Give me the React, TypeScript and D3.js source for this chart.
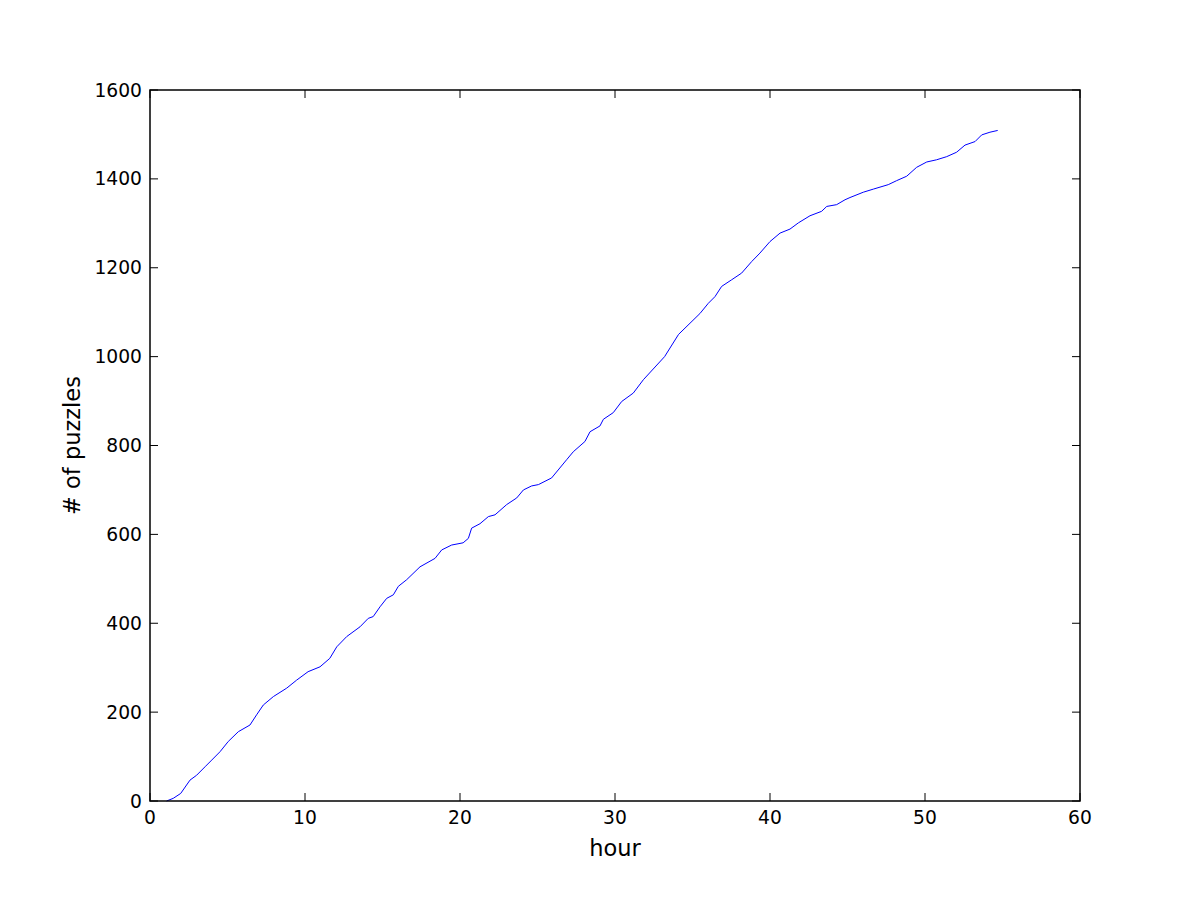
import React from "react";
import * as d3 from "d3";

const hours = [1.07, 1.5, 1.98, 2.58, 3.01, 3.55, 3.98, 4.52, 5.05, 5.7, 6.45, 6.88, 7.31, 7.96, 8.82, 9.46, 10.2, 10.97, 11.6, 12.05, 12.69, 13.55, 14.08, 14.4, 14.84, 15.27, 15.7, 16.02, 16.56, 17.42, 18.39, 18.82, 19.46, 20.2, 20.54, 20.75, 21.29, 21.83, 22.26, 23.01, 23.66, 24.09, 24.62, 25.06, 25.91, 26.88, 27.31, 28.06, 28.39, 29.03, 29.25, 29.89, 30.43, 31.18, 31.83, 33.2, 34.1, 35.48, 36.02, 36.45, 36.88, 37.53, 38.17, 38.82, 39.35, 40.0, 40.65, 41.29, 41.83, 42.58, 43.33, 43.66, 44.3, 44.84, 45.16, 46.02, 46.67, 47.63, 48.17, 48.82, 49.46, 50.11, 50.75, 51.4, 52.04, 52.58, 53.23, 53.66, 54.19, 54.69];
const puzzles = [0, 6, 17, 47, 58, 77, 92, 111, 134, 156, 171, 194, 216, 235, 254, 272, 291, 302, 321, 347, 370, 392, 411, 415, 437, 456, 464, 483, 498, 527, 546, 565, 576, 581, 591, 614, 624, 640, 644, 667, 682, 700, 709, 712, 727, 768, 786, 809, 831, 844, 859, 874, 899, 918, 948, 1000, 1050, 1097, 1120, 1135, 1158, 1173, 1188, 1214, 1233, 1259, 1278, 1287, 1301, 1317, 1327, 1338, 1342, 1353, 1358, 1370, 1377, 1387, 1396, 1406, 1426, 1438, 1443, 1450, 1460, 1476, 1484, 1499, 1505, 1509];

const xTicks = [0, 10, 20, 30, 40, 50, 60];
const yTicks = [0, 200, 400, 600, 800, 1000, 1200, 1400, 1600];

export default function App() {
  const W = 1200, H = 900;
  const left = 150, right = 1080, top = 90, bottom = 801;
  const x = d3.scaleLinear().domain([0, 60]).range([left, right]);
  const y = d3.scaleLinear().domain([0, 1600]).range([bottom, top]);
  const pts = hours.map((h, i) => [h, puzzles[i]] as [number, number]);
  const line = d3.line<[number, number]>().x(d => x(d[0])).y(d => y(d[1]));
  const tl = 8;
  const font = "DejaVu Sans";
  return (
    <svg width={W} height={H} style={{ position: "absolute", left: 0, top: 0, background: "#fff" }} fontFamily={font}>
      <rect x={0} y={0} width={W} height={H} fill="#fff" />
      <path d={line(pts) || ""} fill="none" stroke="#0000ff" strokeWidth={1} />
      {xTicks.map(t => (
        <g key={"x" + t}>
          <line x1={x(t)} x2={x(t)} y1={bottom} y2={bottom - tl} stroke="#000" strokeWidth={1} />
          <line x1={x(t)} x2={x(t)} y1={top} y2={top + tl} stroke="#000" strokeWidth={1} />
          <text x={x(t)} y={bottom + 9} textAnchor="middle" dominantBaseline="hanging" fontSize={18.7} fill="#000">{t}</text>
        </g>
      ))}
      {yTicks.map(t => (
        <g key={"y" + t}>
          <line x1={left} x2={left + tl} y1={y(t)} y2={y(t)} stroke="#000" strokeWidth={1} />
          <line x1={right} x2={right - tl} y1={y(t)} y2={y(t)} stroke="#000" strokeWidth={1} />
          <text x={left - 8} y={y(t)} textAnchor="end" dominantBaseline="central" fontSize={18.7} fill="#000">{t}</text>
        </g>
      ))}
      <rect x={left} y={top} width={right - left} height={bottom - top} fill="none" stroke="#000" strokeWidth={1.5} />
      <text x={(left + right) / 2} y={856} textAnchor="middle" fontSize={22.5} fill="#000">hour</text>
      <text transform={`translate(80, ${(top + bottom) / 2}) rotate(-90)`} textAnchor="middle" fontSize={22.5} fill="#000">
        # of puzzles
      </text>
    </svg>
  );
}
